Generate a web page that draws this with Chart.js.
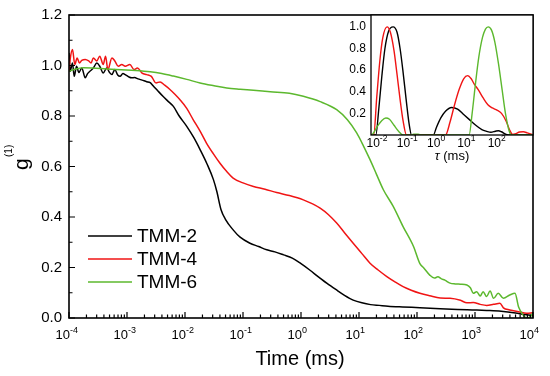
<!DOCTYPE html>
<html>
<head>
<meta charset="utf-8">
<script src="https://cdn.jsdelivr.net/npm/chart.js@4.4.0/dist/chart.umd.min.js"></script>
<style>
  body { margin: 0; background: #fff; }
  #wrap { position: relative; width: 550px; height: 376px; }
  #main { position: absolute; left: 0; top: 0; }
  #inset { position: absolute; left: 330px; top: 0; }
</style>
</head>
<body>
<div id="wrap">
  <canvas id="main" width="550" height="376"></canvas>
  <canvas id="inset" width="220" height="175"></canvas>
</div>
<script>
// --- Main plot data: log10(time / ms) and g(1) ---
const tmm2LogT = [
  -4, -3.98, -3.94, -3.91, -3.87, -3.83, -3.78, -3.72, -3.68, -3.64,
  -3.58, -3.52, -3.47, -3.41, -3.35, -3.30, -3.26, -3.21, -3.16, -3.12,
  -3.07, -3.03, -2.97, -2.92, -2.87, -2.81, -2.74, -2.66, -2.60, -2.55,
  -2.47, -2.38, -2.30, -2.20, -2.10, -1.97, -1.85, -1.74, -1.62, -1.51,
  -1.45, -1.38, -1.30, -1.17, -1.05, -0.88, -0.73, -0.59, -0.45, -0.30,
  -0.15, 0, 0.15, 0.30, 0.45, 0.60, 0.75, 0.90, 1.05, 1.20,
  1.35, 1.50, 1.75, 2.05, 2.40, 2.70, 2.95, 3.20, 3.45, 3.70,
  3.85, 4
];
const tmm2G = [
  1.05, 0.977, 1.01, 0.957, 0.997, 0.972, 0.99, 0.951, 0.968, 0.977,
  0.99, 1.01, 0.997, 0.97, 0.99, 0.972, 0.964, 0.984, 0.962, 0.957,
  0.968, 0.964, 0.955, 0.951, 0.952, 0.947, 0.942, 0.936, 0.932, 0.92,
  0.9, 0.878, 0.86, 0.838, 0.8, 0.759, 0.715, 0.667, 0.61, 0.548,
  0.5, 0.43, 0.39, 0.349, 0.32, 0.296, 0.283, 0.27, 0.262, 0.25,
  0.237, 0.215, 0.19, 0.163, 0.137, 0.113, 0.09, 0.071, 0.06, 0.053,
  0.05, 0.047, 0.044, 0.041, 0.037, 0.034, 0.032, 0.03, 0.027, 0.02,
  0.014, 0.01
];

const tmm4LogT = [
  -4, -3.98, -3.94, -3.90, -3.86, -3.82, -3.78, -3.72, -3.66, -3.62,
  -3.58, -3.52, -3.47, -3.41, -3.37, -3.33, -3.26, -3.21, -3.15, -3.09,
  -3.03, -2.95, -2.88, -2.82, -2.74, -2.66, -2.58, -2.50, -2.43, -2.35,
  -2.26, -2.17, -2.09, -1.97, -1.86, -1.74, -1.63, -1.51, -1.40, -1.28,
  -1.17, -1.00, -0.82, -0.62, -0.42, -0.20, 0.04, 0.20, 0.33, 0.47,
  0.615, 0.75, 0.90, 1.05, 1.19, 1.33, 1.48, 1.62, 1.76, 1.90,
  2.05, 2.22, 2.40, 2.57, 2.75, 2.86, 2.97, 3.09, 3.20, 3.32,
  3.43, 3.49, 3.60, 3.75, 3.89, 4
];
const tmm4G = [
  0.977, 1.024, 1.063, 1.004, 1.03, 1.01, 1.02, 1.024, 1.018, 1.01,
  1.03, 1.018, 1.037, 1.004, 1.037, 0.984, 1.03, 1.018, 0.997, 1.004,
  0.997, 1.004, 0.984, 0.99, 0.97, 0.964, 0.957, 0.931, 0.935, 0.922,
  0.905, 0.885, 0.865, 0.83, 0.786, 0.74, 0.693, 0.65, 0.614, 0.58,
  0.554, 0.535, 0.521, 0.51, 0.497, 0.485, 0.468, 0.452, 0.435, 0.41,
  0.376, 0.338, 0.296, 0.255, 0.217, 0.19, 0.164, 0.143, 0.124, 0.11,
  0.098, 0.088, 0.079, 0.078, 0.07, 0.06, 0.061, 0.054, 0.05, 0.054,
  0.058, 0.04, 0.032, 0.025, 0.019, 0.021
];

const tmm6LogT = [
  -4, -3.9, -3.75, -3.6, -3.35, -3.1, -2.85, -2.6, -2.4, -2.2,
  -1.97, -1.74, -1.5, -1.28, -1.05, -0.82, -0.53, -0.2, 0.04, 0.33,
  0.615, 0.8, 0.96, 1.08, 1.19, 1.3, 1.42, 1.59, 1.76, 1.94,
  2.05, 2.11, 2.22, 2.3, 2.36, 2.42, 2.48, 2.57, 2.66, 2.75,
  2.86, 2.92, 2.97, 3.03, 3.09, 3.14, 3.2, 3.26, 3.32, 3.4,
  3.49, 3.6, 3.69, 3.75, 3.83, 3.89, 3.95, 4
];
const tmm6G = [
  0.977, 0.985, 0.991, 0.99, 0.986, 0.983, 0.98, 0.975, 0.968, 0.958,
  0.945, 0.931, 0.92, 0.911, 0.906, 0.902, 0.896, 0.89, 0.878, 0.857,
  0.825, 0.785, 0.733, 0.68, 0.627, 0.57, 0.508, 0.442, 0.362, 0.283,
  0.215, 0.2, 0.17, 0.158, 0.163, 0.155, 0.15, 0.138, 0.135, 0.134,
  0.131, 0.12, 0.098, 0.104, 0.087, 0.104, 0.085, 0.107, 0.078, 0.098,
  0.078, 0.091, 0.098, 0.045, 0.012, 0, 0.005, 0.02
];

// --- Inset data: log10(tau / ms) and normalised distribution ---
const in2LogTau = [-2.26, -2.1, -2.0, -1.9, -1.8, -1.68, -1.53, -1.4, -1.3, -1.2, -1.1, -1.0, -0.92,
  -0.2, -0.1, 0.05, 0.2, 0.4, 0.6, 0.8, 1.0, 1.2, 1.4, 1.56, 1.7, 1.85, 1.95, 2.05, 2.2, 2.27, 3.09];
const in2Val = [0, 0, 0.25, 0.55, 0.8, 0.96, 1.0, 0.95, 0.8, 0.58, 0.33, 0.1, 0,
  0, 0.07, 0.16, 0.22, 0.255, 0.24, 0.19, 0.14, 0.09, 0.05, 0.034, 0.025, 0.035, 0.04, 0.03, 0.005, 0, 0];

const in4LogTau = [-2.26, -2.17, -2.07, -1.97, -1.87, -1.73, -1.62, -1.5, -1.4, -1.3, -1.2, -1.09,
  0.2, 0.35, 0.5, 0.65, 0.8, 0.93, 1.05, 1.15, 1.28, 1.45, 1.6, 1.75, 1.9, 2.05, 2.2, 2.33, 2.42,
  2.5, 2.65, 2.77, 2.9, 3.09];
const in4Val = [0, 0, 0.35, 0.68, 0.9, 1.0, 0.95, 0.78, 0.56, 0.33, 0.13, 0,
  0, 0.12, 0.28, 0.42, 0.52, 0.549, 0.52, 0.47, 0.42, 0.34, 0.28, 0.25, 0.23, 0.2, 0.13, 0.04, 0.005,
  0.01, 0.028, 0.03, 0.02, 0];

const in6LogTau = [-2.26, -2.2, -2.05, -1.9, -1.77, -1.65, -1.5, -1.35, -1.2, -0.95, -0.85, -0.7, -0.6,
  0.98, 1.08, 1.18, 1.3, 1.42, 1.52, 1.61, 1.72, 1.83, 1.95, 2.07, 2.18, 2.3, 2.38, 3.09];
const in6Val = [0, 0.01, 0.08, 0.135, 0.157, 0.145, 0.09, 0.035, 0, 0, 0.008, 0.008, 0,
  0, 0.2, 0.45, 0.72, 0.9, 0.98, 1.0, 0.97, 0.86, 0.66, 0.42, 0.2, 0.04, 0, 0];

const seriesNames = ['TMM-2', 'TMM-4', 'TMM-6'];
const seriesColors = ['#000000', '#f01414', '#5cb82e'];
const yTickValues = [0, 0.2, 0.4, 0.6, 0.8, 1.0, 1.2];
const insetYTicks = [0.2, 0.4, 0.6, 0.8, 1.0];

const FONT = "'Liberation Sans', Arial, sans-serif";
const pts = (xs, ys) => xs.map((e, i) => ({ x: Math.pow(10, e), y: ys[i] }));

// --- Main chart decorations (Origin-style frame, inward ticks, legend) ---
const mainDecor = {
  id: 'mainDecor',
  afterDraw(chart) {
    const { ctx, chartArea: a, scales: { x, y } } = chart;
    ctx.save();
    ctx.strokeStyle = '#000';
    ctx.fillStyle = '#000';
    ctx.lineWidth = 1.6;
    ctx.strokeRect(a.left, a.top, a.right - a.left, a.bottom - a.top);

    // x ticks
    ctx.lineWidth = 1.2;
    ctx.beginPath();
    for (let e = -4; e <= 4; e++) {
      const px = x.getPixelForValue(Math.pow(10, e));
      ctx.moveTo(px, a.bottom); ctx.lineTo(px, a.bottom - 6);
      if (e < 4) {
        for (let k = 2; k <= 9; k++) {
          const mx = x.getPixelForValue(k * Math.pow(10, e));
          ctx.moveTo(mx, a.bottom); ctx.lineTo(mx, a.bottom - 3.5);
        }
      }
    }
    // y ticks
    for (let v = 0; v <= 12; v++) {
      const py = y.getPixelForValue(v / 10);
      ctx.moveTo(a.left, py); ctx.lineTo(a.left + (v % 2 ? 3.5 : 6), py);
    }
    ctx.stroke();

    // x labels 10^n
    for (let e = -4; e <= 4; e++) {
      const px = x.getPixelForValue(Math.pow(10, e));
      ctx.font = '13px ' + FONT;
      ctx.textAlign = 'right';
      ctx.textBaseline = 'alphabetic';
      ctx.fillText('10', px + 1, 339);
      ctx.font = '9px ' + FONT;
      ctx.textAlign = 'left';
      ctx.fillText(String(e), px + 1, 333);
    }
    // y labels
    ctx.font = '15px ' + FONT;
    ctx.textAlign = 'right';
    ctx.textBaseline = 'middle';
    yTickValues.forEach(v => ctx.fillText(v.toFixed(1), 62, y.getPixelForValue(v)));

    // axis titles
    ctx.font = '20px ' + FONT;
    ctx.textAlign = 'center';
    ctx.textBaseline = 'alphabetic';
    ctx.fillText('Time (ms)', 300, 365);

    ctx.save();
    ctx.translate(0, 170);
    ctx.rotate(-Math.PI / 2);
    ctx.textAlign = 'left';
    ctx.font = '21px ' + FONT;
    ctx.fillText('g', 0, 28);
    ctx.font = '10px ' + FONT;
    ctx.fillText('(1)', 13, 12);
    ctx.restore();

    // legend
    ctx.font = '19px ' + FONT;
    ctx.textAlign = 'left';
    ctx.textBaseline = 'middle';
    seriesNames.forEach((name, i) => {
      const ly = 236 + 23 * i;
      ctx.strokeStyle = seriesColors[i];
      ctx.lineWidth = 1.6;
      ctx.beginPath(); ctx.moveTo(88, ly); ctx.lineTo(132, ly); ctx.stroke();
      ctx.fillText(name, 137, ly + 1);
    });
    ctx.restore();
  }
};

new Chart(document.getElementById('main'), {
  type: 'line',
  data: {
    datasets: [
      { label: seriesNames[0], data: pts(tmm2LogT, tmm2G), borderColor: seriesColors[0], order: 3 },
      { label: seriesNames[1], data: pts(tmm4LogT, tmm4G), borderColor: seriesColors[1], order: 2 },
      { label: seriesNames[2], data: pts(tmm6LogT, tmm6G), borderColor: seriesColors[2], order: 1 }
    ]
  },
  options: {
    responsive: false,
    animation: false,
    events: [],
    layout: { padding: { top: 15, right: 17, left: 0, bottom: 0 }, autoPadding: false },
    plugins: { legend: { display: false }, tooltip: { enabled: false } },
    elements: { point: { radius: 0 }, line: { borderWidth: 1.5, cubicInterpolationMode: 'monotone' } },
    scales: {
      x: {
        type: 'logarithmic', min: 1e-4, max: 1e4,
        ticks: { display: false }, grid: { display: false }, border: { display: false },
        afterFit(s) { s.height = 58; }
      },
      y: {
        min: 0, max: 1.2,
        ticks: { display: false }, grid: { display: false }, border: { display: false },
        afterFit(s) { s.width = 69; }
      }
    }
  },
  plugins: [mainDecor]
});

// --- Inset ---
const insetDecor = {
  id: 'insetDecor',
  beforeDatasetsDraw(chart) {
    const { ctx, chartArea: a } = chart;
    ctx.save();
    ctx.fillStyle = '#fff';
    ctx.fillRect(a.left, a.top, a.right - a.left, a.bottom - a.top);
    ctx.restore();
  },
  afterDraw(chart) {
    const { ctx, chartArea: a, scales: { x, y } } = chart;
    ctx.save();
    ctx.strokeStyle = '#000';
    ctx.fillStyle = '#000';
    ctx.lineWidth = 1.3;
    ctx.strokeRect(a.left, a.top, a.right - a.left, a.bottom - a.top);

    ctx.font = '12px ' + FONT;
    ctx.textAlign = 'right';
    ctx.textBaseline = 'middle';
    insetYTicks.forEach(v => ctx.fillText(v.toFixed(1), a.left - 5, y.getPixelForValue(v)));

    ctx.textBaseline = 'alphabetic';
    for (let e = -2; e <= 2; e++) {
      const px = x.getPixelForValue(Math.pow(10, e));
      ctx.font = '12px ' + FONT;
      ctx.textAlign = 'right';
      ctx.fillText('10', px + 1, 147);
      ctx.font = '8.5px ' + FONT;
      ctx.textAlign = 'left';
      ctx.fillText(String(e), px + 1, 141);
    }

    // tau (ms)
    ctx.font = 'italic 13px ' + FONT;
    const w1 = ctx.measureText('τ').width;
    ctx.font = '13px ' + FONT;
    const w2 = ctx.measureText(' (ms)').width;
    const cx = (a.left + a.right) / 2 - (w1 + w2) / 2;
    ctx.textAlign = 'left';
    ctx.font = 'italic 13px ' + FONT;
    ctx.fillText('τ', cx, 160);
    ctx.font = '13px ' + FONT;
    ctx.fillText(' (ms)', cx + w1, 160);
    ctx.restore();
  }
};

new Chart(document.getElementById('inset'), {
  type: 'line',
  data: {
    datasets: [
      { label: seriesNames[0], data: pts(in2LogTau, in2Val), borderColor: seriesColors[0], order: 3 },
      { label: seriesNames[1], data: pts(in4LogTau, in4Val), borderColor: seriesColors[1], order: 2 },
      { label: seriesNames[2], data: pts(in6LogTau, in6Val), borderColor: seriesColors[2], order: 1 }
    ]
  },
  options: {
    responsive: false,
    animation: false,
    events: [],
    layout: { padding: { top: 15, right: 17, left: 0, bottom: 0 }, autoPadding: false },
    plugins: { legend: { display: false }, tooltip: { enabled: false } },
    elements: { point: { radius: 0 }, line: { borderWidth: 1.4, cubicInterpolationMode: 'monotone' } },
    scales: {
      x: {
        type: 'logarithmic', min: Math.pow(10, -2.26), max: Math.pow(10, 3.09),
        ticks: { display: false }, grid: { display: false }, border: { display: false },
        afterFit(s) { s.height = 40; }
      },
      y: {
        min: 0, max: 1.11,
        ticks: { display: false }, grid: { display: false }, border: { display: false },
        afterFit(s) { s.width = 41; }
      }
    }
  },
  plugins: [insetDecor]
});
</script>
</body>
</html>
